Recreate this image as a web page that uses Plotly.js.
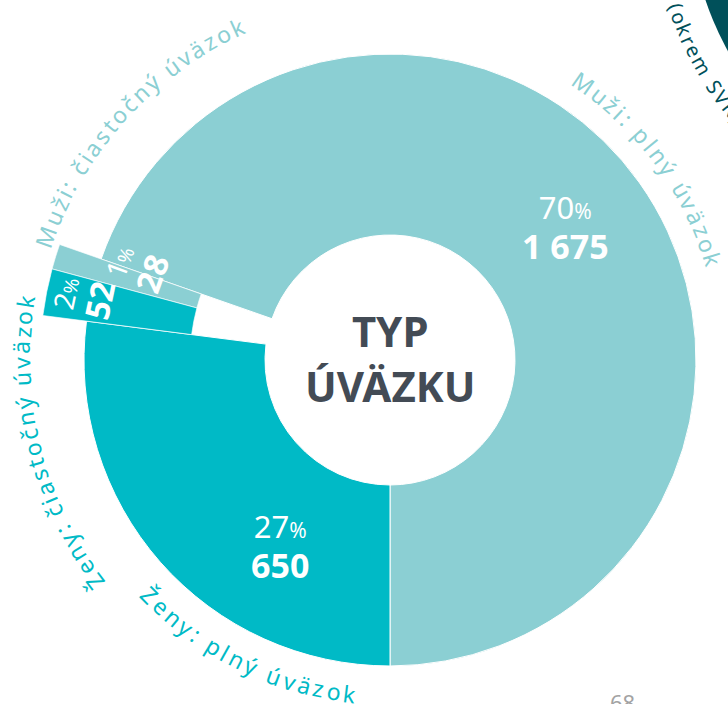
<!DOCTYPE html>
<html>
<head>
<meta charset="utf-8">
<script src="https://cdn.plot.ly/plotly-3.0.1.min.js"></script>
<style>
html,body{margin:0;padding:0;overflow:hidden;background:#ffffff;width:728px;height:704px;}
#chart{width:800px;height:720px;}
</style>
</head>
<body>
<div id="chart"></div>
<script>
// ---- data ----
const categories = ["Muži: plný úväzok", "Muži: čiastočný úväzok", "Ženy: čiastočný úväzok", "Ženy: plný úväzok"];
const values = [1675, 28, 52, 650];
const sliceColors = ["#8bcfd3", "#8bcfd3", "#00bac6", "#00bac6"];
const innerRing = [true, false, false, true];   // drawn in the main ring, others in the offset ring
const centerTitle = ["TYP", "ÚVÄZKU"];
const pageNumber = "68";
const sideNote = "(okrem SVK)";

// ---- layout helpers (pixel -> paper) ----
const W = 800, H = 720;
const P = (px, py) => ({x: px / W, y: 1 - py / H});
const CX = 390, CY = 360;
const R_MAIN = 306, R_OUT = 350;

function dom(cx, cy, r) {
  return {x: [(cx - r) / W, (cx + r) / W], y: [1 - (cy + r) / H, 1 - (cy - r) / H]};
}

const clear = 'rgba(0,0,0,0)';
const total = values.reduce((a, b) => a + b, 0);
const pct = values.map(v => Math.round(100 * v / total));
const fmt = v => String(v).replace(/\B(?=(\d{3})+(?!\d))/g, ' ');
// ring starts at 6 o'clock and runs counter-clockwise (plotly puts the first slice on the clockwise side of `rotation`)
const rot = 180 - 360 * values[0] / total;

const mainTrace = {
  type: 'pie', values: values, labels: categories, sort: false,
  direction: 'counterclockwise', rotation: rot, hole: 125 / R_MAIN,
  domain: dom(CX, CY, R_MAIN),
  marker: {colors: sliceColors.map((c, i) => innerRing[i] ? c : clear),
           line: {color: '#ffffff', width: innerRing.map(v => v ? 1 : 0)}},
  textinfo: 'none', hoverinfo: 'none', showlegend: false
};
const outerTrace = {
  type: 'pie', values: values, labels: categories, sort: false,
  direction: 'counterclockwise', rotation: rot, hole: 200 / R_OUT,
  domain: dom(CX, CY, R_OUT),
  marker: {colors: sliceColors.map((c, i) => innerRing[i] ? clear : c),
           line: {color: 'rgba(255,255,255,0.8)', width: innerRing.map(v => v ? 0 : 0.8)}},
  textinfo: 'none', hoverinfo: 'none', showlegend: false
};

const FONT = '"Noto Sans", "Open Sans", sans-serif';
const annotations = [];
function ann(px, py, text, size, color, opts) {
  const p = P(px, py);
  annotations.push(Object.assign({
    xref: 'paper', yref: 'paper', x: p.x, y: p.y, text: text, showarrow: false,
    xanchor: 'center', yanchor: 'middle',
    font: {family: FONT, size: size, color: color}
  }, opts || {}));
}

// curved text along an arc
const cnv = document.createElement('canvas').getContext('2d');
function arcText(str, cx, cy, r, mid, dir, size, color, spacing, weight) {
  cnv.font = (weight || 'normal') + ' ' + size + 'px "Noto Sans"';
  const chars = Array.from(str);
  const ws = chars.map(c => cnv.measureText(c).width);
  let tot = 0; ws.forEach((w, i) => tot += w + (i ? spacing : 0));
  let s = 0;
  chars.forEach((c, i) => {
    const centre = s + ws[i] / 2;
    s += ws[i] + spacing;
    if (c === ' ') return;
    const th = mid - dir * (centre - tot / 2) / r * 180 / Math.PI;
    const rad = th * Math.PI / 180;
    const px = cx + r * Math.cos(rad), py = cy - r * Math.sin(rad);
    let ang = dir === 1 ? 90 - th : 270 - th;
    while (ang > 180) ang -= 360;
    while (ang < -180) ang += 360;
    ann(px, py, c, size, color, {textangle: ang});
  });
}

// category labels around the ring
const catLabel = [
  {r: 338, mid: 36.5, dir: 1},
  {r: 366, mid: 137.8, dir: 1},
  {r: 369, mid: 193.9, dir: 1},
  {r: 336, mid: 243.7, dir: -1}
];
catLabel.forEach((L, i) => arcText(categories[i], CX, CY, L.r, L.mid, L.dir, 23, sliceColors[i], 3));

// value labels (percent + count)
const valPos = [
  {c: [565, 227], a: 0, ps: 31, vs: 34},
  {c: [137, 268], a: -70, ps: 28, vs: 33},
  {c: [84, 297], a: -78, ps: 28, vs: 33},
  {c: [280, 546], a: 0, ps: 31, vs: 34}
];
valPos.forEach((L, i) => {
  const txt = pct[i] + '<span style="font-size:' + Math.round(L.ps * 0.68) + 'px">%</span><br>' +
              '<span style="font-size:' + L.vs + 'px"><b>' + fmt(values[i]) + '</b></span>';
  ann(L.c[0], L.c[1], txt, L.ps, '#ffffff', {textangle: L.a});
});

// center title
ann(CX, 358, '<b>' + centerTitle.join('<br>') + '</b>', 42, '#434b55');

// decorations: neighbouring chart edge, side note, page number
const shapes = [{
  type: 'circle', xref: 'paper', yref: 'paper',
  x0: (990 - 300) / W, x1: (990 + 300) / W, y0: 1 - (-95 + 300) / H, y1: 1 - (-95 - 300) / H,
  fillcolor: '#00505a', line: {width: 0}, layer: 'below'
}];
arcText(sideNote, 990, -95, 330, 209, -1, 20, '#00505a', 2);
ann(622, 702, pageNumber, 22, '#a3a3a3');

Plotly.newPlot('chart', [mainTrace, outerTrace], {
  width: W, height: H, margin: {l: 0, r: 0, t: 0, b: 0},
  paper_bgcolor: '#ffffff', plot_bgcolor: '#ffffff',
  showlegend: false, annotations: annotations, shapes: shapes
}, {displayModeBar: false, staticPlot: true});
</script>
</body>
</html>
